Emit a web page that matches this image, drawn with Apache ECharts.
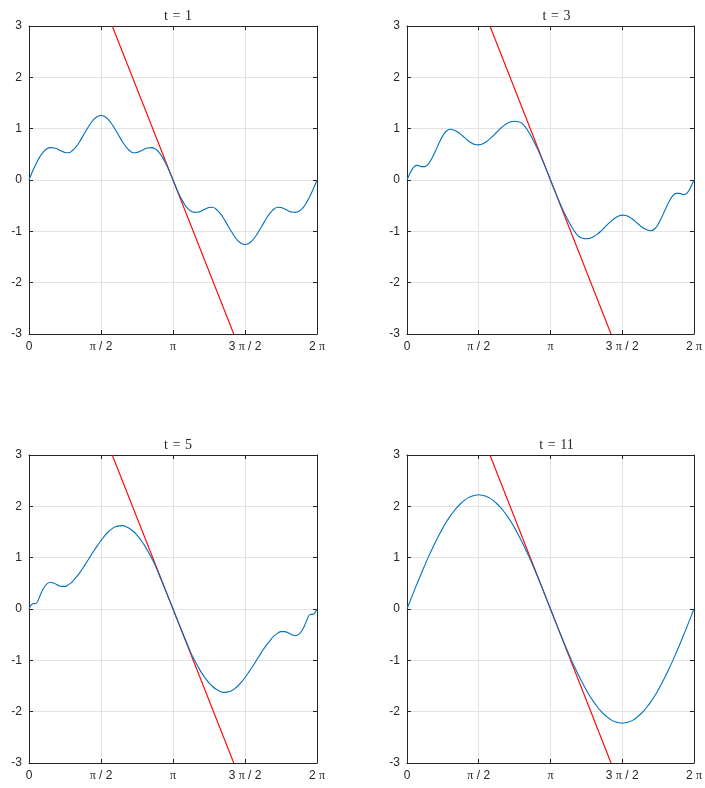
<!DOCTYPE html>
<html>
<head>
<meta charset="utf-8">
<script src="https://cdn.jsdelivr.net/npm/echarts@6/dist/echarts.min.js"></script>
<style>
html,body{margin:0;padding:0;background:#fff;}
#chart{width:705px;height:788px;}
</style>
</head>
<body>
<div id="chart"></div>
<script>
// x positions in units of pi (0 .. 2 pi)
const xPi = [0,0.025,0.05,0.075,0.1,0.125,0.15,0.175,0.2,0.225,0.25,0.275,0.3,0.325,0.35,0.375,0.4,0.425,0.45,0.475,0.5,0.525,0.55,0.575,0.6,0.625,0.65,0.675,0.7,0.725,0.75,0.775,0.8,0.825,0.85,0.875,0.9,0.925,0.95,0.975,1,1.025,1.05,1.075,1.1,1.125,1.15,1.175,1.2,1.225,1.25,1.275,1.3,1.325,1.35,1.375,1.4,1.425,1.45,1.475,1.5,1.525,1.55,1.575,1.6,1.625,1.65,1.675,1.7,1.725,1.75,1.775,1.8,1.825,1.85,1.875,1.9,1.925,1.95,1.975,2];

const yT1 = [0,0.17,0.32,0.45,0.55,0.61,0.63,0.625,0.60,0.565,0.535,0.53,0.57,0.64,0.74,0.86,0.98,1.09,1.18,1.235,1.256,1.235,1.18,1.09,0.98,0.86,0.74,0.64,0.57,0.53,0.535,0.565,0.60,0.625,0.63,0.61,0.55,0.45,0.32,0.17,0,
  -0.17,-0.32,-0.45,-0.55,-0.61,-0.63,-0.625,-0.60,-0.565,-0.535,-0.53,-0.57,-0.64,-0.74,-0.86,-0.98,-1.09,-1.18,-1.235,-1.256,-1.235,-1.18,-1.09,-0.98,-0.86,-0.74,-0.64,-0.57,-0.53,-0.535,-0.565,-0.60,-0.625,-0.63,-0.61,-0.55,-0.45,-0.32,-0.17,0];

const yT3 = [0,0.15,0.26,0.285,0.26,0.26,0.315,0.43,0.575,0.73,0.865,0.955,0.99,0.975,0.94,0.89,0.83,0.77,0.72,0.69,0.685,0.70,0.74,0.795,0.86,0.93,1.0,1.06,1.105,1.135,1.145,1.135,1.105,1.03,0.925,0.80,0.66,0.51,0.345,0.175,0,
  -0.175,-0.345,-0.51,-0.66,-0.80,-0.925,-1.03,-1.105,-1.135,-1.145,-1.135,-1.105,-1.06,-1.0,-0.93,-0.86,-0.795,-0.74,-0.70,-0.685,-0.69,-0.72,-0.77,-0.83,-0.89,-0.94,-0.975,-0.99,-0.955,-0.865,-0.73,-0.575,-0.43,-0.315,-0.26,-0.26,-0.285,-0.26,-0.15,0];

const yT5 = [0,0.10,0.11,0.25,0.40,0.49,0.52,0.50,0.465,0.44,0.44,0.475,0.53,0.61,0.70,0.80,0.91,1.02,1.13,1.235,1.335,1.425,1.50,1.56,1.60,1.62,1.625,1.60,1.565,1.51,1.44,1.35,1.25,1.13,1.0,0.86,0.69,0.52,0.348,0.174,0,
  -0.174,-0.348,-0.52,-0.69,-0.86,-1.0,-1.13,-1.25,-1.35,-1.44,-1.51,-1.565,-1.60,-1.625,-1.62,-1.60,-1.56,-1.50,-1.425,-1.335,-1.235,-1.13,-1.02,-0.91,-0.80,-0.70,-0.61,-0.53,-0.475,-0.44,-0.44,-0.465,-0.50,-0.52,-0.49,-0.40,-0.25,-0.11,-0.10,0];

const yT11 = [0,0.177,0.353,0.527,0.697,0.86,1.02,1.17,1.315,1.45,1.58,1.70,1.805,1.90,1.985,2.055,2.115,2.165,2.195,2.215,2.225,2.215,2.195,2.165,2.115,2.055,1.985,1.90,1.805,1.70,1.58,1.45,1.315,1.17,1.02,0.86,0.697,0.527,0.353,0.177,0,
  -0.177,-0.353,-0.527,-0.697,-0.86,-1.02,-1.17,-1.315,-1.45,-1.58,-1.70,-1.805,-1.90,-1.985,-2.055,-2.115,-2.165,-2.195,-2.215,-2.225,-2.215,-2.195,-2.165,-2.115,-2.055,-1.985,-1.90,-1.805,-1.70,-1.58,-1.45,-1.315,-1.17,-1.02,-0.86,-0.697,-0.527,-0.353,-0.177,0];

// red tangent line end points (x in units of pi)
const redX = [0.578, 1.422];
const redY = [3, -3];

const titles = ['t = 1', 't = 3', 't = 5', 't = 11'];
const curves = [yT1, yT3, yT5, yT11];
const xTickLabels = ['0', 'π / 2', 'π', '3 π / 2', '2 π'];
const yTickLabels = ['-3', '-2', '-1', '0', '1', '2', '3'];

const panels = [
  {left: 29, top: 26, width: 288, height: 308},
  {left: 407, top: 26, width: 289, height: 308},
  {left: 29, top: 455, width: 288, height: 308},
  {left: 407, top: 455, width: 289, height: 308}
];

const AX = '#262626';
const grids = [], xAxes = [], yAxes = [], series = [], titleOpts = [];

panels.forEach((p, i) => {
  grids.push({left: p.left, top: p.top, width: p.width, height: p.height, containLabel: false});
  titleOpts.push({
    text: titles[i].replace(' = ', ' {e|=} '), left: p.left + p.width / 2, top: p.top - 22, textAlign: 'center',
    textStyle: {fontFamily: 'Liberation Serif', fontSize: 14, fontWeight: 'normal', color: AX,
      rich: {e: {fontFamily: 'Liberation Serif', fontSize: 14, color: AX, padding: [0, 1, 0, 1]}}}
  });
  const common = {
    type: 'value', min: 0, max: 2, interval: 0.5, gridIndex: i,
    axisLine: {show: true, onZero: false, lineStyle: {color: AX, width: 1}},
    axisTick: {show: true, inside: true, length: 4, lineStyle: {color: AX}}
  };
  xAxes.push(Object.assign({}, common, {
    position: 'bottom',
    splitLine: {show: true, lineStyle: {color: '#e3e3e3', width: 1}},
    axisLabel: {
      show: true, margin: 7, color: AX, fontFamily: 'Liberation Sans', fontSize: 12,
      showMinLabel: true, showMaxLabel: true,
      formatter: v => xTickLabels[Math.round(v / 0.5)].replace(/π/g, '{p|π}'),
      rich: {p: {fontFamily: 'Liberation Serif', fontSize: 12, color: AX}}
    }
  }));
  xAxes.push(Object.assign({}, common, {
    position: 'top', splitLine: {show: false}, axisLabel: {show: false}
  }));
  const ycommon = {
    type: 'value', min: -3, max: 3, interval: 1, gridIndex: i,
    axisLine: {show: true, onZero: false, lineStyle: {color: AX, width: 1}},
    axisTick: {show: true, inside: true, length: 4, lineStyle: {color: AX}}
  };
  yAxes.push(Object.assign({}, ycommon, {
    position: 'left',
    splitLine: {show: true, lineStyle: {color: '#e3e3e3', width: 1}},
    axisLabel: {show: true, margin: 7, color: AX, fontFamily: 'Liberation Sans', fontSize: 12,
      formatter: v => yTickLabels[Math.round(v) + 3]}
  }));
  yAxes.push(Object.assign({}, ycommon, {
    position: 'right', splitLine: {show: false}, axisLabel: {show: false}
  }));
  series.push({
    type: 'line', xAxisIndex: 2 * i, yAxisIndex: 2 * i,
    data: xPi.map((x, k) => [x, curves[i][k]]),
    showSymbol: false, smooth: 0.4, animation: false,
    lineStyle: {color: '#0072BD', width: 1.1}, z: 3
  });
  series.push({
    type: 'line', xAxisIndex: 2 * i, yAxisIndex: 2 * i,
    data: redX.map((x, k) => [x, redY[k]]),
    showSymbol: false, animation: false,
    lineStyle: {color: '#FF0000', width: 1.1}, z: 2
  });
});

const chart = echarts.init(document.getElementById('chart'), null, {renderer: 'canvas'});
chart.setOption({
  backgroundColor: '#ffffff',
  animation: false,
  title: titleOpts,
  grid: grids,
  xAxis: xAxes,
  yAxis: yAxes,
  series: series
});
</script>
</body>
</html>
